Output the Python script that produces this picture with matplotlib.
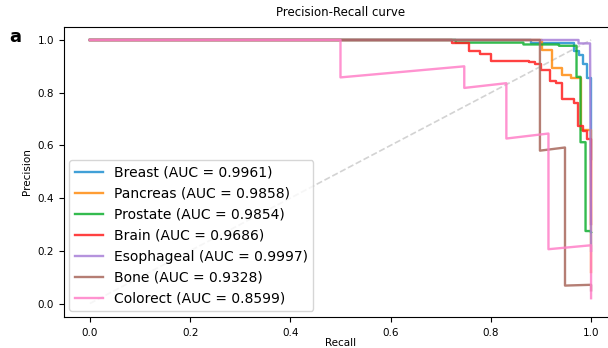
"""
Precision-Recall curves per cancer type
"""

##########################
# Import Required packages
##########################

import matplotlib
matplotlib.use('Agg')
import matplotlib.pyplot as plt

###########################
# Data
###########################

labels = ['Breast', 'Pancreas', 'Prostate', 'Brain', 'Esophageal', 'Bone', 'Colorect']
aucs = [0.9961, 0.9858, 0.9854, 0.9686, 0.9997, 0.9328, 0.8599]

breast_recall = [0, 0.88, 0.88, 0.966, 0.966, 0.976, 0.976, 0.984, 0.984, 0.992, 0.992, 1.0, 1.0]
breast_prec = [1, 1, 0.99, 0.99, 0.96, 0.96, 0.944, 0.944, 0.91, 0.91, 0.857, 0.857, 0.55]

pancreas_recall = [0, 0.903, 0.903, 0.923, 0.923, 0.943, 0.943, 0.960, 0.960, 0.980, 0.980, 1.0, 1.0]
pancreas_prec = [1, 1, 0.962, 0.962, 0.893, 0.893, 0.866, 0.866, 0.854, 0.854, 0.66, 0.66, 0.12]

prostate_recall = [0, 0.73, 0.73, 0.865, 0.865, 0.936, 0.936, 0.971, 0.971, 0.979, 0.979, 0.989, 0.989, 0.998, 1.0]
prostate_prec = [1, 1, 0.99, 0.99, 0.983, 0.983, 0.978, 0.978, 0.86, 0.86, 0.612, 0.612, 0.275, 0.275, 0.27]

brain_recall = [0, 0.722, 0.722, 0.756, 0.756, 0.779, 0.779, 0.80, 0.80, 0.876, 0.876, 0.888, 0.888,
                0.90, 0.90, 0.918, 0.918, 0.93, 0.93, 0.943, 0.943, 0.966, 0.966, 0.973, 0.973,
                0.983, 0.983, 0.991, 0.991, 1.0, 1.0]
brain_prec = [1, 1, 0.987, 0.987, 0.957, 0.957, 0.947, 0.947, 0.922, 0.922, 0.916, 0.916, 0.91,
              0.91, 0.885, 0.885, 0.843, 0.843, 0.835, 0.835, 0.776, 0.776, 0.76, 0.76, 0.672,
              0.672, 0.653, 0.653, 0.625, 0.625, 0.3]

esoph_recall = [0, 0.975, 0.975, 0.998, 1.0]
esoph_prec = [1, 1, 0.987, 0.987, 0.2]

bone_recall = [0, 0.898, 0.898, 0.948, 0.948, 1.0, 1.0]
bone_prec = [1, 1, 0.58, 0.592, 0.068, 0.071, 0.05]

colorect_recall = [0, 0.5, 0.5, 0.747, 0.747, 0.831, 0.831, 0.915, 0.915, 1.0, 1.0]
colorect_prec = [1, 1, 0.858, 0.90, 0.818, 0.836, 0.626, 0.645, 0.206, 0.221, 0.02]

recalls = [breast_recall, pancreas_recall, prostate_recall, brain_recall,
           esoph_recall, bone_recall, colorect_recall]
precisions = [breast_prec, pancreas_prec, prostate_prec, brain_prec,
              esoph_prec, bone_prec, colorect_prec]

colors = ['#1f8fd0', '#ff8c10', '#10b030', '#ff2020', '#a880d8', '#a8685c', '#ff80c8']

#################################
# Visualization
################################

fig = plt.figure(figsize=(6.08, 3.48), dpi=100)
ax = fig.add_axes([0.105, 0.09, 0.91, 0.833])

# chance diagonal
ax.plot([0, 1], [0, 1], linestyle='--', color='lightgray', lw=1.2)

for r, p, lab, a, c in zip(recalls, precisions, labels, aucs, colors):
    ax.plot(r, p, color=c, lw=1.7, alpha=0.85, label='%s (AUC = %.4f)' % (lab, a))

ax.set_xlim(-0.052, 1.052)
ax.set_ylim(-0.05, 1.05)
ax.set_xticks([0.0, 0.2, 0.4, 0.6, 0.8, 1.0])
ax.set_yticks([0.0, 0.2, 0.4, 0.6, 0.8, 1.0])
ax.tick_params(labelsize=7.5)
ax.tick_params(axis='x', pad=4.5)
ax.set_xlabel('Recall', fontsize=7.5, labelpad=0)
ax.set_ylabel('Precision', fontsize=7.5)
ax.set_title('Precision-Recall curve', fontsize=8.5, pad=8)
ax.legend(loc='lower left', fontsize=10, borderaxespad=0.4)

fig.text(0.015, 0.88, 'a', fontsize=13, fontweight='bold')

fig.savefig('out.png', dpi=100)
